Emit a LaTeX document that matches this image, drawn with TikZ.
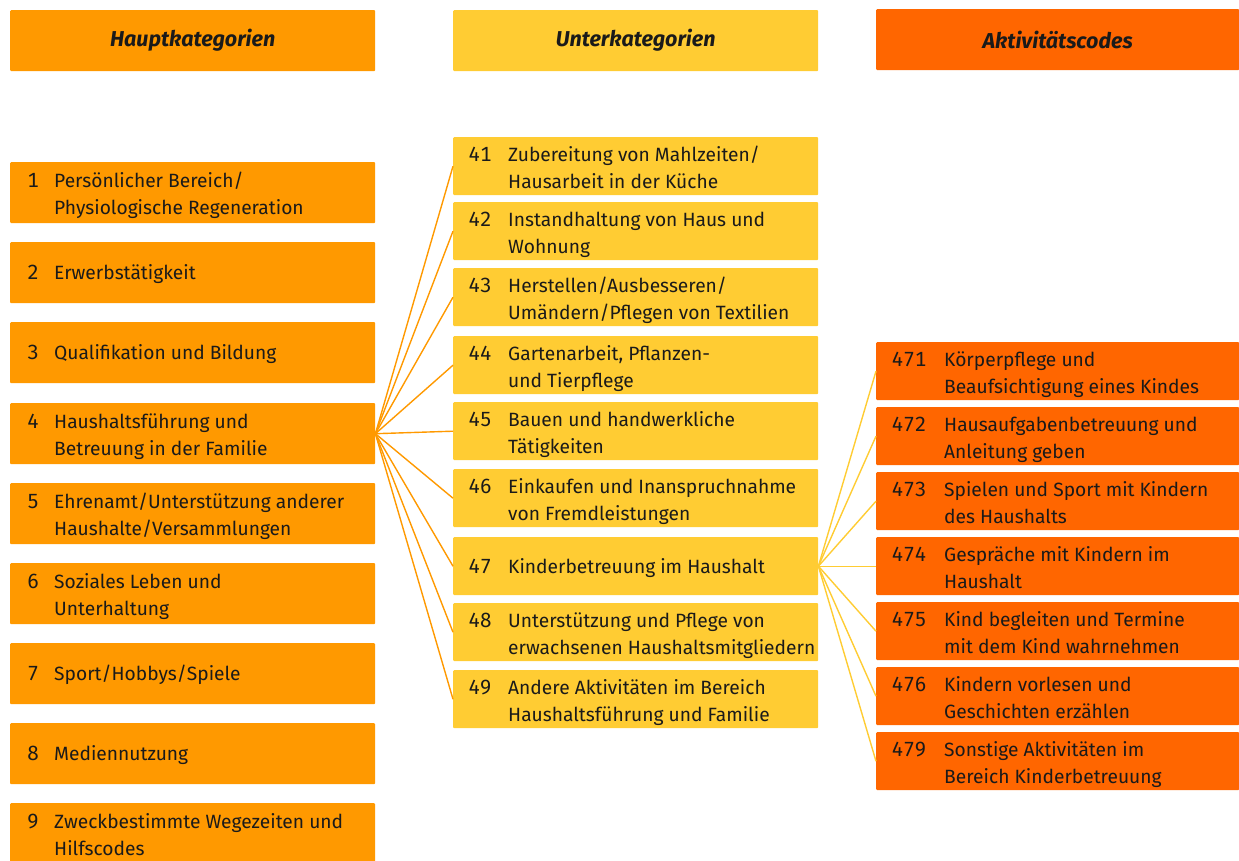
\documentclass[tikz,border=0pt]{standalone}
\usepackage{fontspec}
\setmainfont{Fira Sans}[Numbers={Lining,Monospaced}]
\definecolor{cHaupt}{HTML}{FF9900}
\definecolor{cUnter}{HTML}{FFCC33}
\definecolor{cAkt}{HTML}{FF6600}
\definecolor{cTxt}{HTML}{1A1A1A}
\begin{document}
\begin{tikzpicture}[x=1pt,y=-1pt,
  box/.style={rectangle, rounded corners=1pt, inner sep=0pt, anchor=north west, draw=none},
  hbox/.style={box, fill=cHaupt, minimum width=365pt, minimum height=61pt},
  ubox/.style={box, fill=cUnter, minimum width=365pt, minimum height=58pt},
  abox/.style={box, fill=cAkt, minimum width=363pt, minimum height=58pt},
  head/.style={font=\fontsize{21.5}{26}\selectfont\bfseries\itshape, text=cTxt, inner sep=0pt},
  txt/.style={font=\fontsize{19.2}{27}\selectfont, text=cTxt, anchor=base west, inner sep=0pt},
  num/.style={font=\fontsize{20.5}{27}\selectfont, text=cTxt, anchor=base, inner sep=0pt},
  hline/.style={draw=cHaupt, line width=1.4pt},
  uline/.style={draw=cUnter, line width=1.4pt}]
\useasboundingbox (0,0) rectangle (1239,861);

% headers
\node[hbox] (hh) at (10,10) {};
\node[head] at ([yshift=1pt]hh.center) {Hauptkategorien};
\node[ubox, minimum height=61pt] (uh) at (453,10) {};
\node[head] at ([yshift=1pt]uh.center) {Unterkategorien};
\node[abox, minimum height=61pt] (ah) at (876,9) {};
\node[head] at (ah.center) {Aktivitätscodes};

% Hauptkategorien
\foreach \n/\y/\k/\a/\b in {
 1/162/2/{Persönlicher Bereich/}/{Physiologische Regeneration},
 2/242/1/{Erwerbstätigkeit}/{},
 3/322/1/{Qualifikation und Bildung}/{},
 4/403/2/{Haushaltsführung und}/{Betreuung in der Familie},
 5/483/2/{Ehrenamt/Unterstützung anderer}/{Haushalte/Versammlungen},
 6/563/2/{Soziales Leben und}/{Unterhaltung},
 7/643/1/{Sport/Hobbys/Spiele}/{},
 8/723/1/{Mediennutzung}/{},
 9/803/2/{Zweckbestimmte Wegezeiten und}/{Hilfscodes}}{
  \node[hbox] (h\n) at (10,\y) {};
  \ifnum\k=1 \def\dy{7}\else\def\dy{-5}\fi
  \node[num] (hn\n) at ([xshift=23pt,yshift=-\dy pt]h\n.west) {\n};
  \node[txt] (ha\n) at ([xshift=44pt,yshift=-\dy pt]h\n.west) {\a};
  \node[txt] (hb\n) at ([yshift=-27pt]ha\n.base west) {\b};
}

% Unterkategorien
\foreach \n/\y/\k/\a/\b in {
 41/137/2/{Zubereitung von Mahlzeiten/}/{Hausarbeit in der Küche},
 42/202/2/{Instandhaltung von Haus und}/{Wohnung},
 43/268/2/{Herstellen/Ausbesseren/}/{Umändern/Pflegen von Textilien},
 44/336/2/{Gartenarbeit, Pflanzen-}/{und Tierpflege},
 45/402/2/{Bauen und handwerkliche}/{Tätigkeiten},
 46/469/2/{Einkaufen und Inanspruchnahme}/{von Fremdleistungen},
 47/537/1/{Kinderbetreuung im Haushalt}/{},
 48/603/2/{Unterstützung und Pflege von}/{erwachsenen Haushaltsmitgliedern},
 49/670/2/{Andere Aktivitäten im Bereich}/{Haushaltsführung und Familie}}{
  \node[ubox] (u\n) at (453,\y) {};
  \ifnum\k=1 \def\dy{7}\else\def\dy{-5}\fi
  \node[num] (un\n) at ([xshift=27pt,yshift=-\dy pt]u\n.west) {\n};
  \node[txt] (ua\n) at ([xshift=55pt,yshift=-\dy pt]u\n.west) {\a};
  \node[txt] (ub\n) at ([yshift=-27pt]ua\n.base west) {\b};
}

% Aktivitätscodes
\foreach \n/\y/\k/\a/\b in {
 471/342/2/{Körperpflege und}/{Beaufsichtigung eines Kindes},
 472/407/2/{Hausaufgabenbetreuung und}/{Anleitung geben},
 473/472/2/{Spielen und Sport mit Kindern}/{des Haushalts},
 474/537/2/{Gespräche mit Kindern im}/{Haushalt},
 475/602/2/{Kind begleiten und Termine}/{mit dem Kind wahrnehmen},
 476/667/2/{Kindern vorlesen und}/{Geschichten erzählen},
 479/732/2/{Sonstige Aktivitäten im}/{Bereich Kinderbetreuung}}{
  \node[abox] (a\n) at (876,\y) {};
  \ifnum\k=1 \def\dy{7}\else\def\dy{-5}\fi
  \node[num] (an\n) at ([xshift=33pt,yshift=-\dy pt]a\n.west) {\n};
  \node[txt] (aa\n) at ([xshift=68pt,yshift=-\dy pt]a\n.west) {\a};
  \node[txt] (ab\n) at ([yshift=-27pt]aa\n.base west) {\b};
}

% connectors
\foreach \n in {41,42,43,44,45,46,47,48,49}{
  \draw[hline] (h4.east) -- (u\n.west);
}
\foreach \n in {471,472,473,474,475,476,479}{
  \draw[uline] (u47.east) -- (a\n.west);
}
\end{tikzpicture}
\end{document}
